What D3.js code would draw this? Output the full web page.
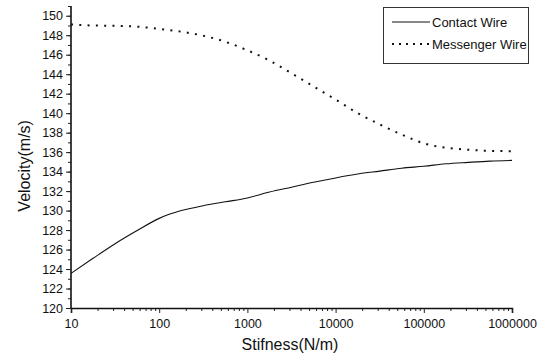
<!DOCTYPE html>
<html>
<head>
<meta charset="utf-8">
<script src="https://cdn.jsdelivr.net/npm/d3@7"></script>
<style>
  body { margin: 0; background: #fff; }
  svg { display: block; font-family: "Liberation Sans", Arial, sans-serif; }
</style>
</head>
<body>
<div id="chart"></div>
<script>
// Stiffness samples, quarter-decade steps from 10 to 1e6
const stiffness = d3.range(0, 21).map(k => Math.pow(10, 1 + k * 0.25));

// Velocities (m/s)
const contactWire = [123.55, 125.1, 126.6, 127.95, 129.2, 130.0, 130.5, 130.9, 131.3, 131.9,
  132.4, 132.9, 133.35, 133.75, 134.05, 134.35, 134.55, 134.8, 134.95, 135.08, 135.15];
const messengerWire = [149.1, 149.0, 148.97, 148.88, 148.65, 148.36, 147.95, 147.33, 146.45, 145.4,
  144.1, 142.75, 141.4, 140.0, 138.85, 137.8, 136.9, 136.45, 136.25, 136.13, 136.1];

const seriesNames = ['Contact Wire', 'Messenger Wire'];
const yTicks = d3.range(120, 151, 2);
const xTicks = [10, 100, 1000, 10000, 100000, 1000000];

const width = 542;
const height = 360;

const svg = d3.select('#chart')
  .append('svg')
    .attr('width', width)
    .attr('height', height);

const x = d3.scaleLog()
    .domain([10, 1000000])
    .range([71, 512]);

const y = d3.scaleLinear()
    .domain([120, 151])
    .range([308, 6]);

// y axis: labelled major ticks every 2, minor ticks every 1
svg.append('g')
    .attr('transform', `translate(${x(10)},0)`)
    .call(d3.axisLeft(y).tickValues(d3.range(120, 152, 1)).tickSize(3).tickFormat(''))
    .call(g => g.select('.domain').remove());

svg.append('g')
    .attr('class', 'y-axis')
    .attr('transform', `translate(${x(10)},0)`)
    .call(d3.axisLeft(y).tickValues(yTicks).tickSize(5).tickPadding(3).tickFormat(d3.format('d')))
    .call(g => g.select('.domain').attr('d', `M0,${y(151)}V${y(120)}`));

// x axis: decades labelled, minor ticks at 2..9
const minorX = [];
for (let e = 1; e < 6; e++) {
  for (let m = 2; m < 10; m++) minorX.push(m * Math.pow(10, e));
}

svg.append('g')
    .attr('transform', `translate(0,${y(120)})`)
    .call(d3.axisBottom(x).tickValues(minorX).tickSize(3).tickFormat(''))
    .call(g => g.select('.domain').remove());

svg.append('g')
    .attr('class', 'x-axis')
    .attr('transform', `translate(0,${y(120)})`)
    .call(d3.axisBottom(x).tickValues(xTicks).tickSize(5).tickPadding(6).tickFormat(d3.format('d')));

svg.selectAll('.tick line').attr('stroke', '#222');
svg.selectAll('.domain').attr('stroke', '#111').attr('stroke-width', 1.6);
svg.selectAll('.tick text')
    .attr('fill', '#111')
    .style('font-size', '12.5px');

// axis titles
svg.append('text')
    .attr('x', 290)
    .attr('y', 350)
    .attr('text-anchor', 'middle')
    .style('font-size', '16px')
    .attr('fill', '#111')
    .text('Stifness(N/m)');

svg.append('text')
    .attr('transform', `translate(30,${y(135) + 4}) rotate(-90)`)
    .attr('text-anchor', 'middle')
    .style('font-size', '16px')
    .attr('fill', '#111')
    .text('Velocity(m/s)');

// curves
const line = d3.line()
    .x(d => x(d[0]))
    .y(d => y(d[1]))
    .curve(d3.curveMonotoneX);

svg.append('path')
    .datum(stiffness.map((s, i) => [s, contactWire[i]]))
    .attr('fill', 'none')
    .attr('stroke', '#111')
    .attr('stroke-width', 1.1)
    .attr('d', line);

svg.append('path')
    .datum(stiffness.map((s, i) => [s, messengerWire[i]]))
    .attr('fill', 'none')
    .attr('stroke', '#111')
    .attr('stroke-width', 2)
    .attr('stroke-dasharray', '2 6.3')
    .attr('d', line);

// legend
const legend = svg.append('g').attr('transform', 'translate(383,7)');

legend.append('rect')
    .attr('x', 0.5)
    .attr('y', 0.5)
    .attr('width', 145)
    .attr('height', 56)
    .attr('fill', '#fff')
    .attr('stroke', '#333')
    .attr('stroke-width', 1);

const legendItems = legend.selectAll('.legend-item')
    .data(seriesNames)
    .join('g')
      .attr('class', 'legend-item')
      .attr('transform', (d, i) => `translate(0,${15 + i * 22})`);

legendItems.append('line')
    .attr('x1', 9)
    .attr('x2', 47)
    .attr('stroke', '#111')
    .attr('stroke-width', (d, i) => i === 0 ? 1 : 2)
    .attr('stroke-dasharray', (d, i) => i === 0 ? null : '2 5');

legendItems.append('text')
    .attr('x', 49)
    .attr('y', 5)
    .style('font-size', '13px')
    .attr('fill', '#111')
    .text(d => d);
</script>
</body>
</html>
